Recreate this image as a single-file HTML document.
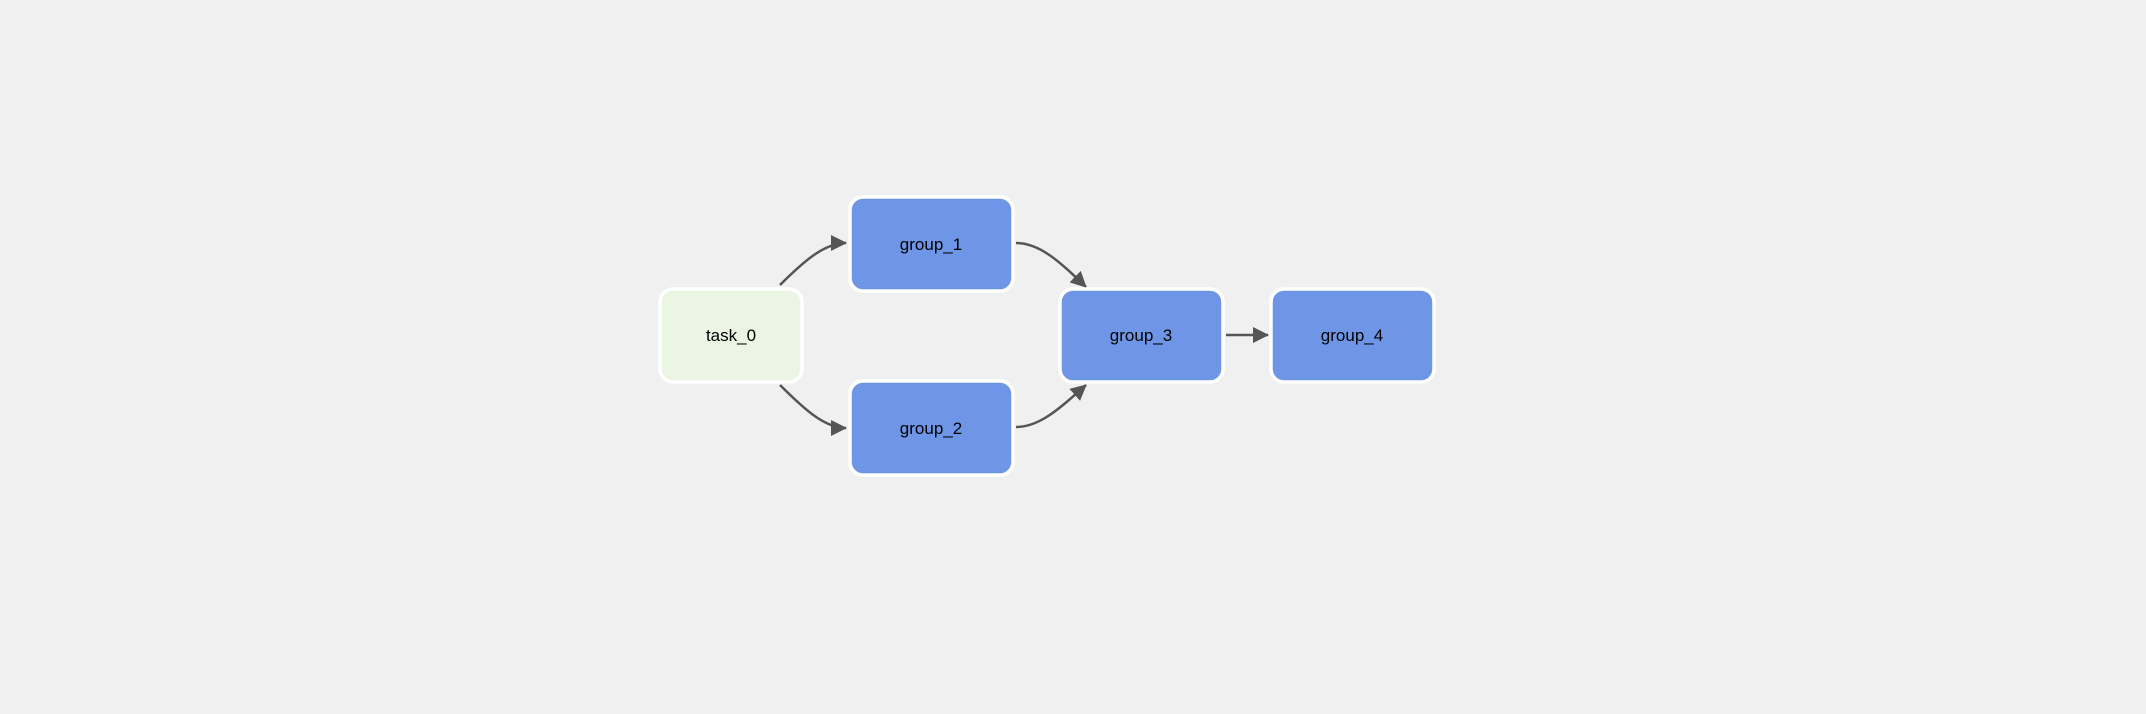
<!DOCTYPE html>
<html><head><style>
html,body{margin:0;padding:0;background:#f0f0f0;}
body{width:2146px;height:714px;overflow:hidden;}
svg{display:block}
text{font-family:"Liberation Sans",sans-serif;font-size:17px;fill:#000;}
</style></head><body>
<svg width="2146" height="714" viewBox="0 0 2146 714">
<defs>
<marker id="a" markerWidth="10" markerHeight="10" refX="9" refY="5" orient="auto" markerUnits="userSpaceOnUse">
<path d="M0,0 L10,5 L0,10 Z" fill="#555"/>
</marker>
<marker id="b" markerWidth="16" markerHeight="16" refX="15" refY="8" orient="auto" markerUnits="userSpaceOnUse">
<path d="M0,0 L16,8 L0,16 Z" fill="#555"/>
</marker>
</defs>
<g fill="none" stroke="#555" stroke-width="2.5">
<path d="M780,285 C805,260 825,243 846,243" marker-end="url(#b)"/>
<path d="M780,385 C805,410 825,428 846,428" marker-end="url(#b)"/>
<path d="M1016,243 C1040,243 1060,262 1086,287" marker-end="url(#b)"/>
<path d="M1016,427 C1040,427 1060,408 1086,385" marker-end="url(#b)"/>
<path d="M1226,335 L1268,335" marker-end="url(#b)"/>
</g>
<g stroke="#fff" stroke-width="3.5">
<rect x="660" y="289" width="142" height="93" rx="13" fill="#ebf5e4"/>
<rect x="850" y="197" width="163" height="94" rx="13" fill="#6f96e6"/>
<rect x="850" y="381" width="163" height="94" rx="13" fill="#6f96e6"/>
<rect x="1060" y="289" width="163" height="93" rx="13" fill="#6f96e6"/>
<rect x="1271" y="289" width="163" height="93" rx="13" fill="#6f96e6"/>
</g>
<g text-anchor="middle">
<text x="731" y="341">task_0</text>
<text x="931" y="250">group_1</text>
<text x="931" y="434">group_2</text>
<text x="1141" y="341">group_3</text>
<text x="1352" y="341">group_4</text>
</g>
</svg>
</body></html>
